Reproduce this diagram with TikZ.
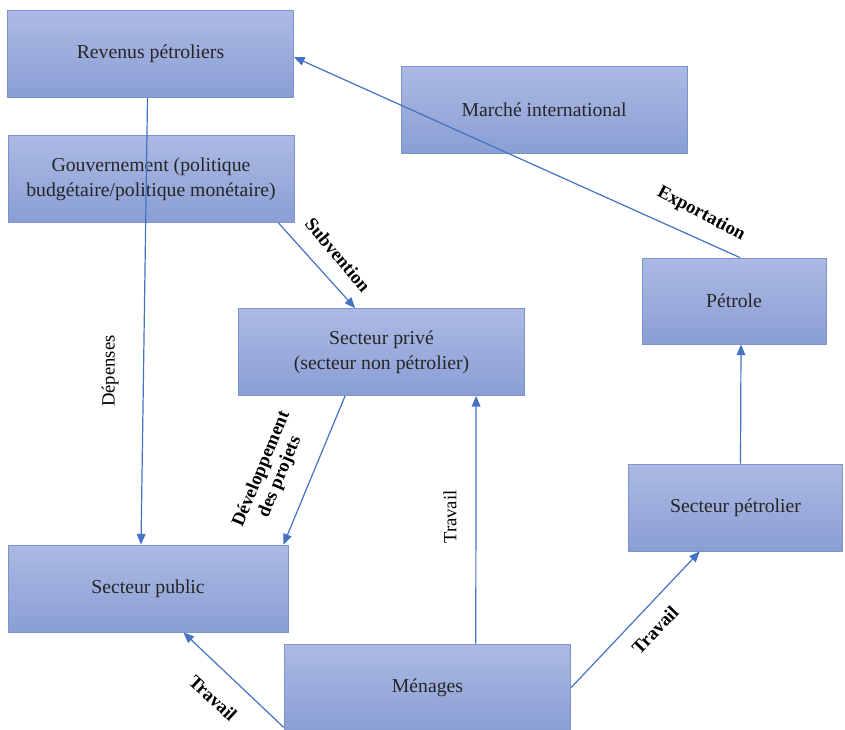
\documentclass[tikz,border=0pt]{standalone}
\usepackage{fontspec}
\setmainfont{Liberation Serif}
\usetikzlibrary{arrows.meta,calc}
\definecolor{boxtop}{RGB}{172,186,228}
\definecolor{boxbot}{RGB}{138,158,212}
\definecolor{boxline}{RGB}{124,147,206}
\definecolor{flow}{RGB}{68,114,196}
\tikzset{
  secteur/.style={draw=boxline, line width=0.6pt, top color=boxtop, bottom color=boxbot,
    minimum width=214.5pt, minimum height=65.25pt, align=center, inner sep=2pt,
    font=\fontsize{14.8}{18.5}\selectfont, text=black!85},
  flux/.style={draw=flow, line width=0.9pt, -{Triangle[length=8pt,width=6.5pt]}},
  etiq/.style={font=\fontsize{14}{15}\selectfont\bfseries, align=center, inner sep=1pt},
  etiqn/.style={font=\fontsize{14}{15}\selectfont, inner sep=1pt}
}
\begin{document}
\begin{tikzpicture}[x=0.75pt, y=-0.75pt]
    \useasboundingbox (0,0) rectangle (845,729);
    % boxes (pixel coordinates of the page, y going down)
    \node[secteur] (rev) at (150.5,54) {Revenus pétroliers};
    \node[secteur] (mar) at (544,109.5) {Marché international};
    \node[secteur] (gov) at (151,179) {Gouvernement (politique\\budgétaire/politique monétaire)};
    \node[secteur] (priv) at (381.5,352) {Secteur privé\\(secteur non pétrolier)};
    \node[secteur, minimum width=138pt, minimum height=64.5pt] (pet) at (734,301) {Pétrole};
    \node[secteur, minimum width=161pt] (spet) at (735.5,507.5) {Secteur pétrolier};
    \node[secteur, minimum width=210pt] (pub) at (148,588.5) {Secteur public};
    \node[secteur, minimum width=215pt] (men) at (427.5,687.5) {Ménages};
    % flows
    \draw[flux] ($(pet.north)+(6,0)$) -- ($(rev.east)+(0,3)$);
    \draw[flux] ($(rev.south)+(-3,0)$) -- ($(pub.north)+(-7,0)$);
    \draw[flux] ($(gov.south east)+(-16,0)$) -- ($(priv.north west)+(117,0)$);
    \draw[flux] ($(priv.south west)+(107,0)$) -- ($(pub.north east)+(-5,0)$);
    \draw[flux] ($(men.north west)+(192,0)$) -- ($(priv.south west)+(238,0)$);
    \draw[flux] ($(men.south west)+(0,-4)$) -- ($(pub.south east)+(-105,0)$);
    \draw[flux] (men.east) -- ($(spet.south west)+(72,0)$);
    \draw[flux] ($(spet.north)+(5,0)$) -- ($(pet.south)+(7,0)$);
    % labels
    \node[etiq, rotate=-28] (lexp) at (701,214) {Exportation};
    \node[etiqn, rotate=90] (ldep) at (110,371) {Dépenses};
    \node[etiq, rotate=-50] (lsub) at (338,255) {Subvention};
    \node[etiq, rotate=67.5] (ldev) at (271,473) {Développement\\des projets};
    \node[etiqn, rotate=90] (ltr1) at (450,517) {Travail};
    \node[etiq, rotate=-43] (ltr2) at (213,698) {Travail};
    \node[etiq, rotate=46] (ltr3) at (655,630) {Travail};
\end{tikzpicture}
\end{document}
